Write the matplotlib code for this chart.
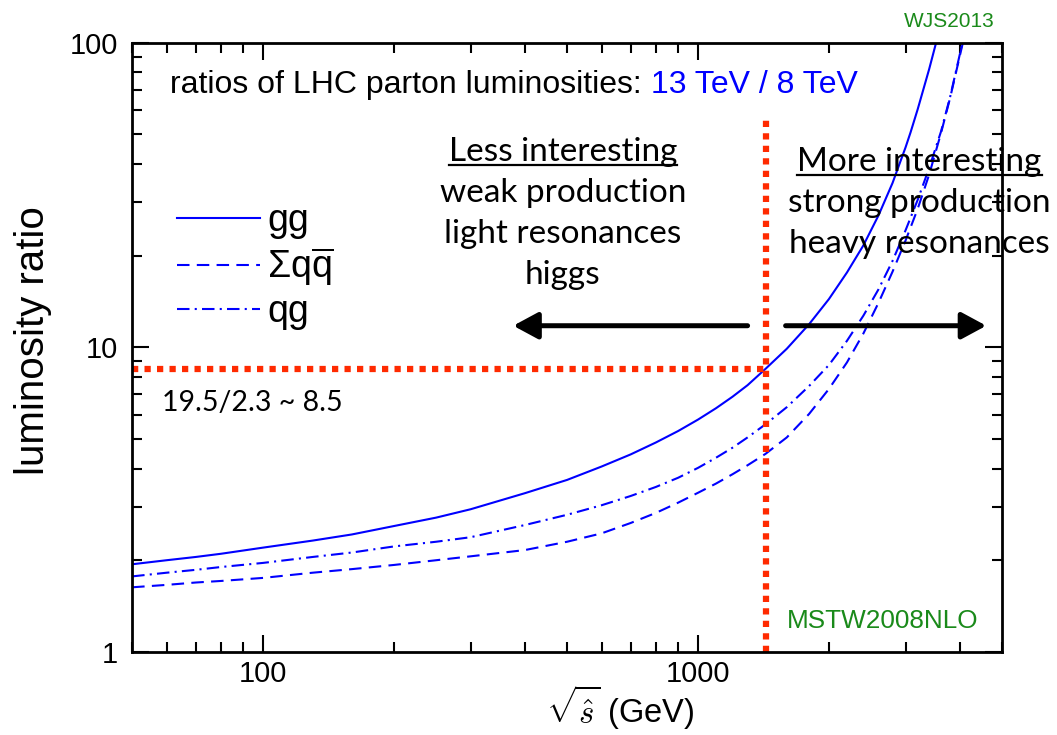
import numpy as np
import matplotlib
matplotlib.use('Agg')
import matplotlib.pyplot as plt
from matplotlib.lines import Line2D

plt.rcParams['font.family'] = ['Liberation Sans', 'DejaVu Sans']
plt.rcParams['mathtext.fontset'] = 'custom'
plt.rcParams['mathtext.rm'] = 'Liberation Sans'
plt.rcParams['mathtext.it'] = 'Liberation Sans:italic'

# 13 TeV / 8 TeV luminosity ratios vs sqrt(s_hat) in GeV
gg_x = [50, 60, 70, 80, 100, 130, 160, 200, 250, 300, 400, 500, 600, 700, 800,
        900, 1000, 1100, 1200, 1300, 1430, 1600, 1800, 2000, 2200, 2400, 2600, 2800,
        3000, 3080, 3200, 3400, 3540, 3700]
gg_y = [1.94, 2.00, 2.05, 2.10, 2.20, 2.32, 2.43, 2.59, 2.76, 2.94, 3.32, 3.67, 4.06, 4.45, 4.87,
        5.31, 5.79, 6.31, 6.88, 7.51, 8.5, 9.89, 11.9, 14.4, 17.6, 21.6, 27.1, 34.6,
        45.3, 50.7, 60.5, 81.9, 102, 131]

qqbar_x = [50, 60, 70, 80, 100, 130, 160, 200, 250, 300, 400, 500, 600, 700, 800,
           900, 1000, 1100, 1200, 1300, 1430, 1600, 1800, 2000, 2200, 2400, 2600, 2800,
           3000, 3200, 3400, 3620, 3800, 4060, 4200]
qqbar_y = [1.63, 1.66, 1.69, 1.71, 1.75, 1.82, 1.87, 1.93, 2.00, 2.06, 2.16, 2.30, 2.45, 2.65, 2.86,
           3.09, 3.33, 3.57, 3.83, 4.10, 4.47, 5.06, 6.04, 7.30, 8.92, 11.1, 14.0, 17.7,
           22.4, 28.5, 36.9, 50.5, 66, 99.4, 124]

qg_x = [50, 60, 70, 80, 100, 130, 160, 200, 250, 300, 400, 500, 600, 700, 800,
        900, 1000, 1100, 1200, 1300, 1430, 1600, 1800, 2000, 2200, 2400, 2600, 2800,
        3000, 3200, 3400, 3620, 3800, 4030, 4150]
qg_y = [1.77, 1.82, 1.86, 1.90, 1.96, 2.05, 2.12, 2.22, 2.30, 2.38, 2.61, 2.82, 3.03, 3.25, 3.48,
        3.73, 4.02, 4.34, 4.68, 5.06, 5.59, 6.36, 7.46, 8.75, 10.5, 12.7, 15.5, 19.2,
        24.2, 30.5, 38.8, 51.1, 66.5, 96.2, 118]

# cut marked on the plot: 19.5/2.3 ~ 8.5
cut_mass = 1430
cut_ratio = 8.5
cut_top = 57

blue = '#0000ff'
red = '#ff2a00'
green = '#1a8a1a'

fig = plt.figure(figsize=(10.57, 7.35), dpi=100)
ax = fig.add_axes([0.125, 0.113, 0.823, 0.829])

ax.plot(gg_x, gg_y, color=blue, lw=1.5, label='gg')
ax.plot(qqbar_x, qqbar_y, color=blue, lw=1.5, ls=(0, (6, 3.5)),
        label=r'Σq$\overline{\mathrm{q}}$')
ax.plot(qg_x, qg_y, color=blue, lw=1.5, ls=(0, (6, 2.5, 1, 2.5)), label='qg')

# red dotted guide lines
ax.plot([50, cut_mass], [cut_ratio, cut_ratio], color=red, lw=4.5,
        ls=(0, (1, 1)), dash_capstyle='butt')
ax.plot([cut_mass, cut_mass], [1, cut_top], color=red, lw=4.5,
        ls=(0, (1, 1)), dash_capstyle='butt')

ax.set_xscale('log')
ax.set_yscale('log')
ax.set_xlim(50, 5000)
ax.set_ylim(1, 100)
ax.set_xticks([100, 1000])
ax.set_xticklabels(['100', '1000'])
ax.set_yticks([1, 10, 100])
ax.set_yticklabels(['1', '10', '100'])
ax.tick_params(which='both', direction='in', top=True, right=True, labelsize=21)
ax.tick_params(which='major', length=12, width=1.5)
ax.tick_params(which='minor', length=7, width=1.5)
ax.tick_params(axis='x', pad=6)
ax.tick_params(axis='y', pad=10)
for s in ax.spines.values():
    s.set_linewidth(2)

fig.text(0.031, 0.537, 'luminosity ratio', rotation=90, fontsize=29,
         ha='center', va='center')
fig.text(0.587, 0.017, r'$\sqrt{\hat{s}}$ (GeV)', fontsize=23.5, ha='center',
         va='baseline', math_fontfamily='cm')

leg = ax.legend(loc='upper left', bbox_to_anchor=(0.052, 0.736), frameon=False,
                fontsize=27, handlelength=2.2, handletextpad=0.2,
                labelspacing=0.16, borderpad=0, borderaxespad=0)

# title line, black then blue
t1 = ax.text(0.044, 0.93, 'ratios of LHC parton luminosities: ', transform=ax.transAxes,
             fontsize=23, va='center', ha='left')
fig.canvas.draw()
bb = t1.get_window_extent()
x_end = ax.transAxes.inverted().transform((bb.x1, bb.y0))[0]
ax.text(x_end, 0.93, '13 TeV / 8 TeV', transform=ax.transAxes, fontsize=23,
        va='center', ha='left', color=blue)

gill = ['Lato', 'DejaVu Sans']
left_lines = ['Less interesting', 'weak production', 'light resonances', 'higgs']
right_lines = ['More interesting', 'strong production', 'heavy resonances']
left_tx = []
for i, s in enumerate(left_lines):
    left_tx.append(ax.text(0.495, 0.806 - i * 0.0675, s, transform=ax.transAxes,
                           fontsize=24, ha='center', va='baseline', family=gill))
right_tx = []
for i, s in enumerate(right_lines):
    right_tx.append(ax.text(0.905, 0.789 - i * 0.0675, s, transform=ax.transAxes,
                            fontsize=24, ha='center', va='baseline', family=gill))

ax.text(0.034, 0.395, '19.5/2.3 ~ 8.5', transform=ax.transAxes, fontsize=20.5,
        ha='left', va='baseline', family=gill)

ax.text(0.753, 0.04, 'MSTW2008NLO', transform=ax.transAxes, fontsize=18.8,
        color=green, ha='left', va='baseline')
fig.text(0.898, 0.963, 'WJS2013', fontsize=15, color=green, ha='center', va='baseline')

# arrows
arr = dict(arrowstyle='-|>,head_length=0.5,head_width=0.27', lw=3.6, color='black',
           mutation_scale=30, shrinkA=0, shrinkB=0)
ax.annotate('', xy=(376, 11.77), xytext=(1300, 11.77), arrowprops=arr)
ax.annotate('', xy=(4600, 11.77), xytext=(1590, 11.77), arrowprops=arr)

# underline the headings
fig.canvas.draw()
for t in (left_tx[0], right_tx[0]):
    bb = t.get_window_extent()
    base = t.get_transform().transform(t.get_position())[1]
    y = base - 4
    p0 = fig.transFigure.inverted().transform((bb.x0, y))
    p1 = fig.transFigure.inverted().transform((bb.x1, y))
    fig.add_artist(Line2D([p0[0], p1[0]], [p0[1], p1[1]], color='black', lw=1.6,
                          transform=fig.transFigure))

fig.savefig('out.png', dpi=100)
